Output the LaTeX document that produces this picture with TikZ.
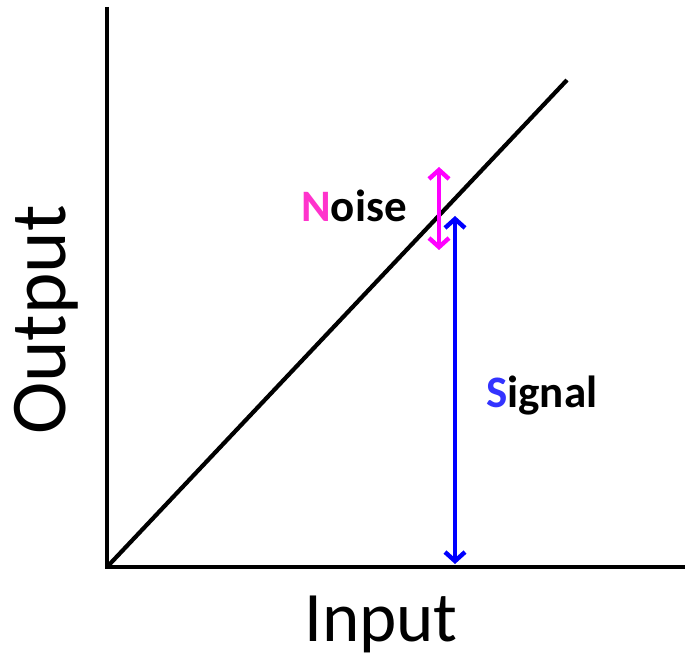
\documentclass[tikz,border=0pt]{standalone}
\usepackage{fontspec}
\setmainfont{Carlito}
\usetikzlibrary{arrows.meta}
\definecolor{mag}{RGB}{255,0,255}
\definecolor{magtext}{RGB}{255,51,204}
\definecolor{blu}{RGB}{0,0,255}
\definecolor{blutext}{RGB}{51,51,255}
\begin{document}
\begin{tikzpicture}[x=1pt,y=-1pt,
  axis/.style={line width=4.2pt},
  dblarrow/.style={line width=4.4pt,{Straight Barb[length=9pt,width=20pt,line width=4.4pt]}-{Straight Barb[length=9pt,width=20pt,line width=4.4pt]}},
  lbl/.style={font=\fontsize{45}{52}\selectfont\bfseries,inner sep=0pt},
  axlbl/.style={font=\fontsize{71}{82}\selectfont,inner sep=0pt}]
\useasboundingbox (0,0) rectangle (685,660);
\coordinate (top) at (107,7);
\coordinate (origin) at (107,567);
\coordinate (right) at (685,567);
\coordinate (lineend) at (567,80);
\draw[axis] (top) -- (origin) -- (right);
\draw[axis] (origin) -- (lineend);
\coordinate (ntop) at (439,167);
\coordinate (nbot) at (439,250);
\coordinate (stop) at (455,216);
\coordinate (sbot) at (455,564);
\draw[dblarrow,mag] (ntop) -- (nbot);
\draw[dblarrow,blu] (stop) -- (sbot);
\node[lbl,anchor=base west] (noise) at (301,222) {\textcolor{magtext}{N}oise};
\node[lbl,anchor=base west] (signal) at (486,407) {\textcolor{blutext}{S}ignal};
\node[axlbl,anchor=base] (input) at (381,641) {Input};
\node[axlbl,rotate=90,anchor=base,font=\fontsize{79}{90}\selectfont] (output) at (65,320) {Output};
\end{tikzpicture}
\end{document}
